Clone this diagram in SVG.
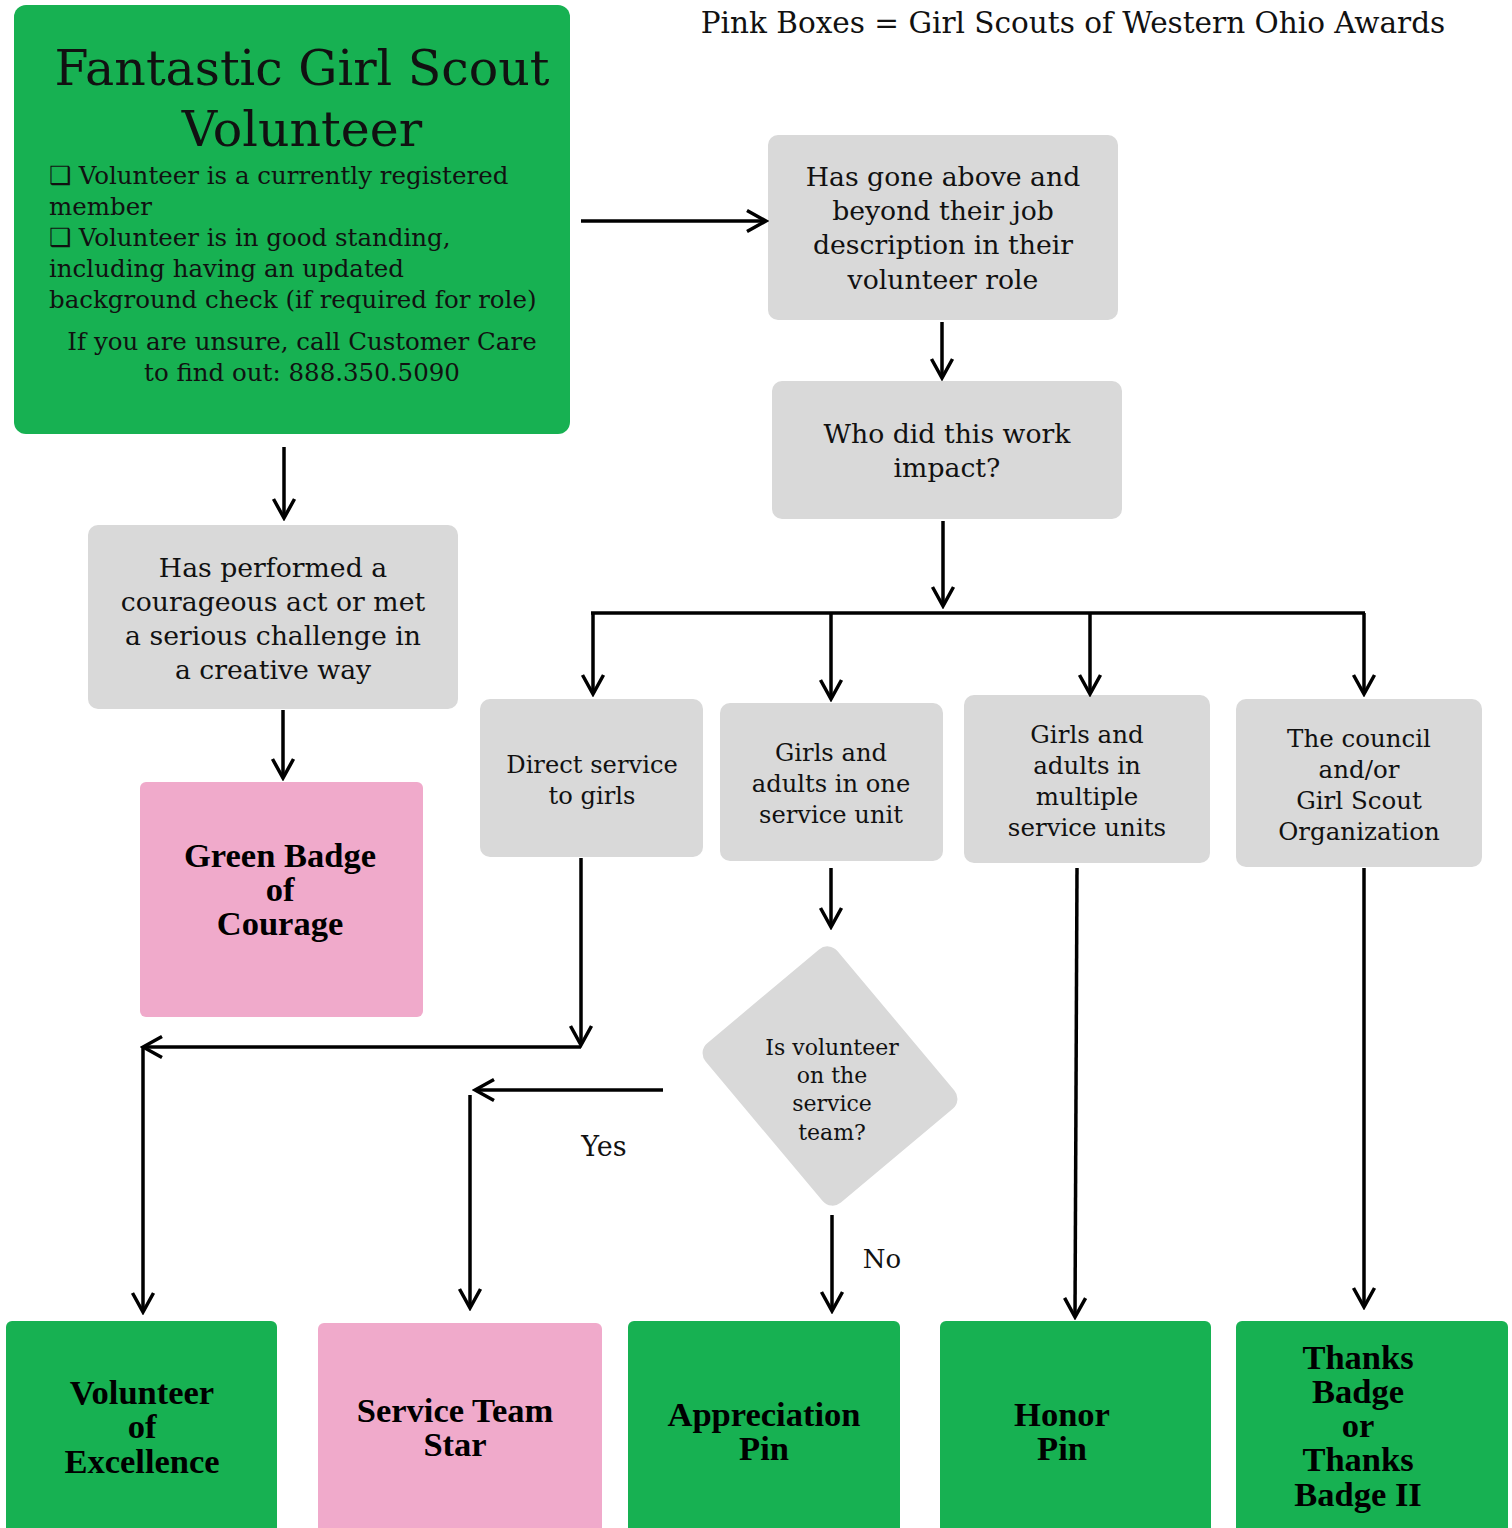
<svg xmlns="http://www.w3.org/2000/svg" width="1512" height="1528" viewBox="0 0 1512 1528">
<style>
.green{fill:#17b152}
.gray{fill:#d9d9d9}
.pink{fill:#f0aacb}
.t{font-family:"DejaVu Serif","Liberation Serif",serif;fill:#111;text-anchor:middle}
.b{font-family:"Liberation Serif","DejaVu Serif",serif;font-weight:bold;fill:#000;text-anchor:middle;font-size:34.5px}
.c{fill:none;stroke:#000;stroke-width:3.5}
</style>
<defs>
<marker id="ah" markerUnits="userSpaceOnUse" markerWidth="26" markerHeight="26" viewBox="0 0 26 26" refX="23" refY="13" orient="auto">
<path d="M4,2.5 L23,13 L4,23.5" fill="none" stroke="#000" stroke-width="3.5"/>
</marker>
</defs>
<rect width="1512" height="1528" fill="#fff"/>
<text class="t" x="1073" y="33" font-size="29.5">Pink Boxes = Girl Scouts of Western Ohio Awards</text>

<g id="start">
<rect class="green" x="14" y="5" width="556" height="429" rx="12"/>
<text class="t" x="302" y="85" font-size="49">Fantastic Girl Scout</text>
<text class="t" x="302" y="146" font-size="49">Volunteer</text>
<g class="t" style="text-anchor:start" font-size="24.5">
<text x="49" y="184">❑ Volunteer is a currently registered</text>
<text x="49" y="215">member</text>
<text x="49" y="246">❑ Volunteer is in good standing,</text>
<text x="49" y="277">including having an updated</text>
<text x="49" y="308">background check (if required for role)</text>
</g>
<text class="t" x="302" y="350" font-size="24.5">If you are unsure, call Customer Care</text>
<text class="t" x="302" y="381" font-size="24.5">to find out: 888.350.5090</text>
</g>

<g id="above">
<rect class="gray" x="768" y="135" width="350" height="185" rx="10"/>
<g class="t" font-size="26.7">
<text x="943" y="186">Has gone above and</text>
<text x="943" y="220">beyond their job</text>
<text x="943" y="254">description in their</text>
<text x="943" y="289">volunteer role</text>
</g>
</g>

<g id="who">
<rect class="gray" x="772" y="381" width="350" height="138" rx="10"/>
<g class="t" font-size="26.7">
<text x="947" y="443">Who did this work</text>
<text x="947" y="477">impact?</text>
</g>
</g>

<g id="courage">
<rect class="gray" x="88" y="525" width="370" height="184" rx="10"/>
<g class="t" font-size="26.7">
<text x="273" y="577">Has performed a</text>
<text x="273" y="611">courageous act or met</text>
<text x="273" y="645">a serious challenge in</text>
<text x="273" y="679">a creative way</text>
</g>
</g>

<g id="greenbadge">
<rect class="pink" x="140" y="782" width="283" height="235" rx="6"/>
<text class="b" x="280" y="867">Green Badge</text>
<text class="b" x="280" y="901">of</text>
<text class="b" x="280" y="935">Courage</text>
</g>

<g id="direct">
<rect class="gray" x="480" y="699" width="223" height="158" rx="10"/>
<g class="t" font-size="24.2">
<text x="592" y="773">Direct service</text>
<text x="592" y="804">to girls</text>
</g>
</g>

<g id="oneunit">
<rect class="gray" x="720" y="703" width="223" height="158" rx="10"/>
<g class="t" font-size="24.2">
<text x="831" y="761">Girls and</text>
<text x="831" y="792">adults in one</text>
<text x="831" y="823">service unit</text>
</g>
</g>

<g id="multiple">
<rect class="gray" x="964" y="695" width="246" height="168" rx="10"/>
<g class="t" font-size="24.5">
<text x="1087" y="743">Girls and</text>
<text x="1087" y="774">adults in</text>
<text x="1087" y="805">multiple</text>
<text x="1087" y="836">service units</text>
</g>
</g>

<g id="council">
<rect class="gray" x="1236" y="699" width="246" height="168" rx="10"/>
<g class="t" font-size="24.5">
<text x="1359" y="747">The council</text>
<text x="1359" y="778">and/or</text>
<text x="1359" y="809">Girl Scout</text>
<text x="1359" y="840">Organization</text>
</g>
</g>

<g id="decision">
<rect class="gray" x="726" y="990" width="208" height="172" rx="13" transform="rotate(50 830 1076)"/>
<g class="t" font-size="22">
<text x="832" y="1055">Is volunteer</text>
<text x="832" y="1083">on the</text>
<text x="832" y="1111">service</text>
<text x="832" y="1140">team?</text>
</g>
</g>

<g id="excellence">
<rect class="green" x="6" y="1321" width="271" height="220" rx="6"/>
<text class="b" x="142" y="1404">Volunteer</text>
<text class="b" x="142" y="1438">of</text>
<text class="b" x="142" y="1473">Excellence</text>
</g>

<g id="teamstar">
<rect class="pink" x="318" y="1323" width="284" height="220" rx="6"/>
<text class="b" x="455" y="1422">Service Team</text>
<text class="b" x="455" y="1456">Star</text>
</g>

<g id="appreciation">
<rect class="green" x="628" y="1321" width="272" height="220" rx="6"/>
<text class="b" x="764" y="1426">Appreciation</text>
<text class="b" x="764" y="1460">Pin</text>
</g>

<g id="honor">
<rect class="green" x="940" y="1321" width="271" height="220" rx="6"/>
<text class="b" x="1062" y="1426">Honor</text>
<text class="b" x="1062" y="1460">Pin</text>
</g>

<g id="thanks">
<rect class="green" x="1236" y="1321" width="272" height="220" rx="6"/>
<text class="b" x="1358" y="1369">Thanks</text>
<text class="b" x="1358" y="1403">Badge</text>
<text class="b" x="1358" y="1437">or</text>
<text class="b" x="1358" y="1471">Thanks</text>
<text class="b" x="1358" y="1506">Badge II</text>
</g>

<g id="connectors">
<path class="c" d="M581,221 H766" marker-end="url(#ah)"/>
<path class="c" d="M942,322 V378" marker-end="url(#ah)"/>
<path class="c" d="M943,521 V606" marker-end="url(#ah)"/>
<path class="c" d="M591,613 H1365"/>
<path class="c" d="M593,613 V694" marker-end="url(#ah)"/>
<path class="c" d="M831,613 V699" marker-end="url(#ah)"/>
<path class="c" d="M1090,613 V694" marker-end="url(#ah)"/>
<path class="c" d="M1364,613 V694" marker-end="url(#ah)"/>
<path class="c" d="M284,447 V518" marker-end="url(#ah)"/>
<path class="c" d="M283,710 V778" marker-end="url(#ah)"/>
<path class="c" d="M581,858 V1045" marker-end="url(#ah)"/>
<path class="c" d="M581,1047 H143" marker-end="url(#ah)"/>
<path class="c" d="M143,1046 V1312" marker-end="url(#ah)"/>
<path class="c" d="M831,868 V927" marker-end="url(#ah)"/>
<path class="c" d="M663,1090 H475" marker-end="url(#ah)"/>
<path class="c" d="M470,1095 V1308" marker-end="url(#ah)"/>
<path class="c" d="M832,1215 V1311" marker-end="url(#ah)"/>
<path class="c" d="M1077,868 L1075,1317" marker-end="url(#ah)"/>
<path class="c" d="M1364,868 V1307" marker-end="url(#ah)"/>
<text class="t" x="604" y="1156" font-size="27">Yes</text>
<text class="t" x="882" y="1268" font-size="26">No</text>
</g>
</svg>
